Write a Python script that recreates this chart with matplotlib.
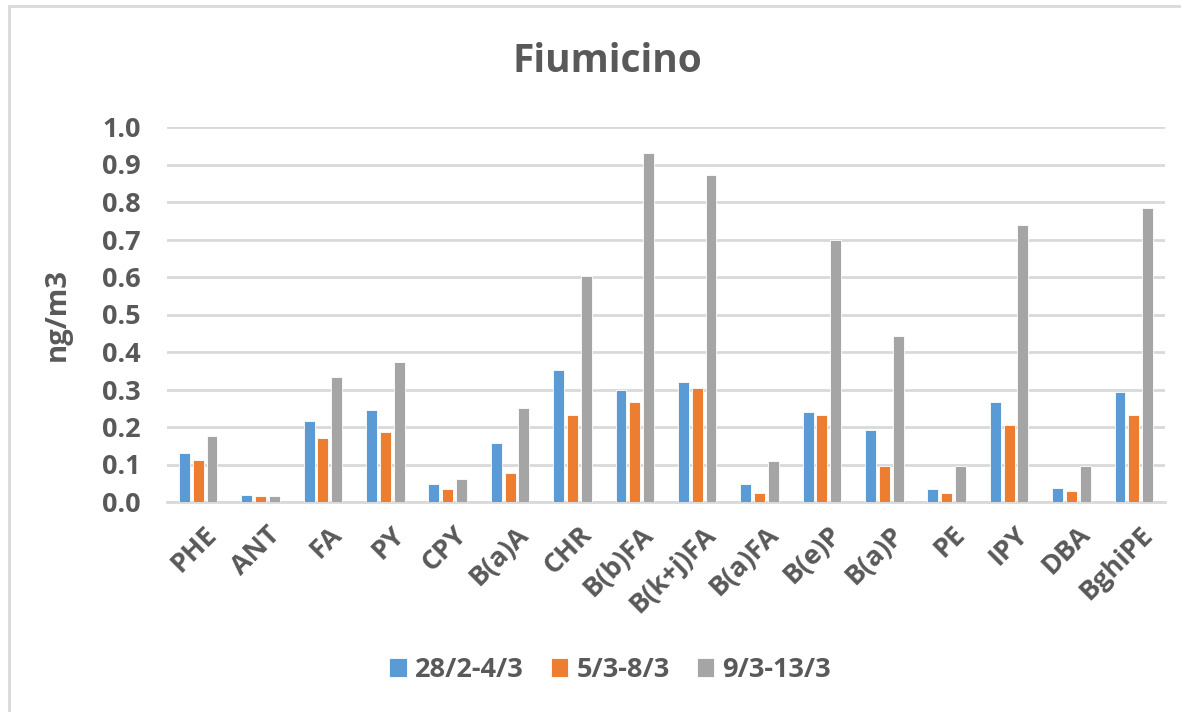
import numpy as np
import matplotlib.pyplot as plt
from matplotlib.patches import Rectangle
from matplotlib.transforms import ScaledTranslation

# PAH concentrations per sampling period
compounds = ['PHE', 'ANT', 'FA', 'PY', 'CPY', 'B(a)A', 'CHR', 'B(b)FA', 'B(k+j)FA',
             'B(a)FA', 'B(e)P', 'B(a)P', 'PE', 'IPY', 'DBA', 'BghiPE']
period_labels = ['28/2-4/3', '5/3-8/3', '9/3-13/3']
p1 = [0.131, 0.020, 0.215, 0.245, 0.047, 0.157, 0.352, 0.298, 0.320,
      0.047, 0.241, 0.192, 0.034, 0.267, 0.038, 0.293]
p2 = [0.113, 0.016, 0.170, 0.188, 0.034, 0.078, 0.232, 0.267, 0.304,
      0.025, 0.232, 0.095, 0.025, 0.206, 0.029, 0.232]
p3 = [0.175, 0.016, 0.333, 0.373, 0.061, 0.250, 0.603, 0.932, 0.871,
      0.109, 0.699, 0.443, 0.095, 0.738, 0.095, 0.783]
colors = ['#5B9BD5', '#ED7D31', '#A5A5A5']

txt = '#595959'
plt.rcParams['font.family'] = ['Open Sans', 'DejaVu Sans']
plt.rcParams['font.weight'] = 'bold'

W, H = 1181, 712
fig = plt.figure(figsize=(W / 100, H / 100), dpi=100)
fig.patches.append(Rectangle((9 / W, -0.1), 1.2, 1 - 6 / H + 0.1, transform=fig.transFigure,
                             fill=False, edgecolor='#D9D9D9', linewidth=2))

ax = fig.add_axes([167 / W, 1 - 502 / H, (1165 - 167) / W, (502 - 127) / H])

x = np.arange(len(compounds))
w = 1 / 5.73
step = 1.27 * w
for i, (vals, lab) in enumerate(zip([p1, p2, p3], period_labels)):
    ax.bar(x + (i - 1) * step, vals, width=w, color=colors[i], label=lab,
           edgecolor='white', linewidth=0.6, zorder=3)

ax.set_xlim(-0.5, len(compounds) - 0.5)
ax.set_ylim(0, 1.0)
yt = np.arange(0, 1.01, 0.1)
ax.set_yticks(yt)
ax.set_yticklabels(['%.1f' % v for v in yt], fontweight='bold')
ax.grid(axis='y', color='#D9D9D9', linewidth=2, zorder=0)
for s in ['top', 'right', 'left']:
    ax.spines[s].set_visible(False)
ax.spines['bottom'].set_color('#D9D9D9')
ax.spines['bottom'].set_linewidth(2)
ax.tick_params(axis='both', length=0, labelsize=19.5, labelcolor=txt)
ax.tick_params(axis='y', pad=19)

ax.set_xticks(x)
ax.set_xticklabels(compounds, rotation=45, ha='right', va='top', rotation_mode='anchor',
                   fontweight='bold')
ax.tick_params(axis='x', pad=14)
shift = ScaledTranslation(6 / 100, 0, fig.dpi_scale_trans)
for t in ax.get_xticklabels():
    t.set_transform(t.get_transform() + shift)

ax.set_ylabel('ng/m3', fontsize=21, color=txt, labelpad=22, fontweight='bold')
fig.text(607 / W, 1 - 62 / H, 'Fiumicino', ha='center', va='center', fontsize=28,
         color=txt, fontweight='bold')

ax.legend(loc='center', bbox_to_anchor=(610 / W, 1 - 670 / H), bbox_transform=fig.transFigure,
          ncol=3, frameon=False, prop={'size': 19.5, 'weight': 'bold'}, labelcolor=txt,
          handlelength=0.65, handleheight=0.65, handletextpad=0.3, columnspacing=1.0)

fig.savefig('out.png', dpi=100)
